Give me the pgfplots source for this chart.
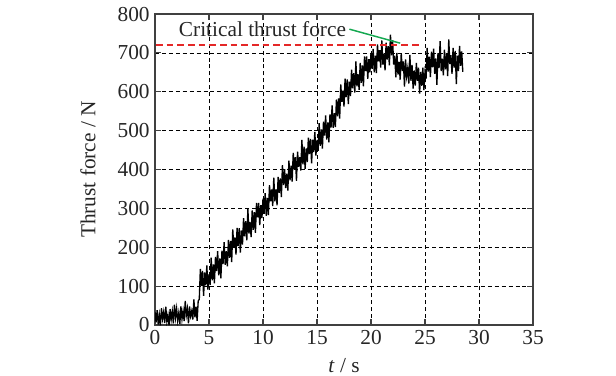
\documentclass[border=0pt]{standalone}
\usepackage{fontspec}
\setmainfont{Liberation Serif}
\usepackage{pgfplots}
\pgfplotsset{compat=1.18}
\definecolor{critred}{RGB}{228,40,40}
\definecolor{annogreen}{RGB}{20,168,80}
\begin{document}
\begin{tikzpicture}
\path[use as bounding box] (-116.25pt,-37.5pt) rectangle (345.75pt,243.75pt);
\begin{axis}[
  at={(0pt,0pt)}, anchor=south west,
  scale only axis,
  width=283.5pt, height=233.25pt,
  xmin=0, xmax=35, ymin=0, ymax=800,
  xtick={0,5,...,35}, ytick={0,100,...,800},
  /pgf/number format/assume math mode=true,
  tick label style={font=\fontsize{16}{19}\selectfont, black!85},
  label style={font=\fontsize{16}{19}\selectfont, black!85},
  tick align=inside, major tick length=4.5pt,
  tick style={black!75, line width=0.8pt},
  axis line style={black!75, line width=1pt},
  grid=major,
  major grid style={black, line width=0.45pt, dash pattern=on 3pt off 2.2pt},
  xlabel={\textit{t} / s},
  ylabel={Thrust force / N},
  xlabel style={at={(axis description cs:0.5,-0.129)}, anchor=center},
  ylabel style={at={(axis description cs:-0.177,0.5)}, anchor=center},
  xticklabel style={yshift=-0.5pt},
  yticklabel style={xshift=-0.5pt},
]
\addplot[black, line width=1pt, line join=miter] coordinates {
(0,33)(0.1,7)(0.2,38)(0.3,1)(0.4,26)(0.5,-1)(0.6,43)(0.7,16)(0.8,33)(0.9,5)
(1.0,47)(1.1,9)(1.2,25)(1.3,-1)(1.4,41)(1.5,14)(1.6,35)(1.7,4)(1.8,52)(1.9,19)
(2.0,42)(2.1,11)(2.2,31)(2.3,3)(2.4,48)(2.5,15)(2.6,36)(2.7,10)(2.8,62)(2.9,25)
(3.0,42)(3.1,4)(3.2,48)(3.3,23)(3.4,36)(3.5,14)(3.6,66)(3.7,20)(3.8,47)(3.9,11)
(4.0,62)(4.1,66)(4.2,144)(4.3,101)(4.4,139)(4.5,75)(4.6,135)(4.7,102)(4.8,153)(4.9,91)
(5.0,131)(5.1,103)(5.2,173)(5.3,115)(5.4,156)(5.5,107)(5.6,175)(5.7,139)(5.8,190)(5.9,128)
(6.0,171)(6.1,120)(6.2,191)(6.3,157)(6.4,213)(6.5,155)(6.6,190)(6.7,151)(6.8,219)(6.9,173)
(7.0,216)(7.1,162)(7.2,246)(7.3,199)(7.4,225)(7.5,181)(7.6,250)(7.7,203)(7.8,249)(7.9,186)
(8.0,243)(8.1,207)(8.2,275)(8.3,228)(8.4,267)(8.5,218)(8.6,298)(8.7,235)(8.8,265)(8.9,226)
(9.0,295)(9.1,245)(9.2,290)(9.3,237)(9.4,314)(9.5,277)(9.6,314)(9.7,257)(9.8,308)(9.9,275)
(10.0,325)(10.1,286)(10.2,339)(10.3,281)(10.4,327)(10.5,283)(10.6,360)(10.7,318)(10.8,349)(10.9,306)
(11.0,379)(11.1,318)(11.2,349)(11.3,308)(11.4,381)(11.5,340)(11.6,377)(11.7,329)(11.8,411)(11.9,360)
(12.0,401)(12.1,352)(12.2,389)(12.3,346)(12.4,423)(12.5,372)(12.6,410)(12.7,369)(12.8,443)(12.9,401)
(13.0,432)(13.1,371)(13.2,446)(13.3,407)(13.4,432)(13.5,397)(13.6,476)(13.7,413)(13.8,459)(13.9,402)
(14.0,454)(14.1,419)(14.2,482)(14.3,440)(14.4,479)(14.5,416)(14.6,477)(14.7,445)(14.8,497)(14.9,436)
(15.0,476)(15.1,448)(15.2,519)(15.3,461)(15.4,503)(15.5,454)(15.6,523)(15.7,487)(15.8,539)(15.9,477)
(16.0,521)(16.1,470)(16.2,542)(16.3,508)(16.4,565)
(16.5,507)(16.6,545)(16.7,509)(16.8,580)(16.9,537)(17.0,583)(17.1,531)(17.2,619)(17.3,574)(17.4,603)(17.5,562)
(17.6,634)(17.7,586)(17.8,632)(17.9,568)(18.0,626)(18.1,589)(18.2,657)(18.3,609)(18.4,648)(18.5,598)
(18.6,678)(18.7,614)(18.8,645)(18.9,605)(19.0,674)(19.1,623)(19.2,668)(19.3,614)(19.4,691)(19.5,653)
(19.6,691)(19.7,633)(19.8,684)(19.9,650)
(20.0,700)(20.1,659)(20.2,710)(20.3,650)(20.4,693)(20.5,648)(20.6,722)(20.7,678)(20.8,707)(20.9,662)
(21.0,732)(21.1,670)(21.2,698)(21.3,655)(21.4,726)(21.5,683)(21.6,717)(21.7,668)(21.8,747)(21.9,694)
(22.0,733)(22.1,670)(22.2,693)(22.3,637)
(22.4,700)(22.5,644)(22.6,677)(22.7,631)(22.8,699)(22.9,653)(23.0,678)(23.1,613)(23.2,683)(23.3,640)
(23.4,660)(23.5,621)(23.6,695)(23.7,628)(23.8,669)(23.9,608)(24.0,655)(24.1,616)(24.2,674)(24.3,628)
(24.4,662)(24.5,595)(24.6,651)(24.7,615)
(24.8,662)(24.9,604)(25.0,651)(25.1,634)(25.2,713)
(25.3,652)(25.4,690)(25.5,638)(25.6,703)(25.7,663)(25.8,711)(25.9,646)(26.0,686)(26.1,618)(26.2,699)
(26.3,661)(26.4,730)(26.5,653)(26.6,685)(26.7,642)(26.8,708)(26.9,658)(27.0,698)(27.1,640)(27.2,735)
(27.3,671)(27.4,694)(27.5,646)(27.6,713)(27.7,662)(27.8,705)(27.9,620)(28.0,693)(28.1,653)(28.2,718)
(28.3,667)(28.4,704)(28.5,651)
};
\addplot[critred, line width=1.1pt, dash pattern=on 5pt off 3pt] coordinates {(0.1,720) (24.4,720)};
\addplot[annogreen, line width=1.1pt] coordinates {(18.0,761) (22.7,725)};
\node[font=\fontsize{16}{19}\selectfont, anchor=center, black!85] at (axis cs:9.95,761) {Critical thrust force};
\end{axis}
\end{tikzpicture}
\end{document}
